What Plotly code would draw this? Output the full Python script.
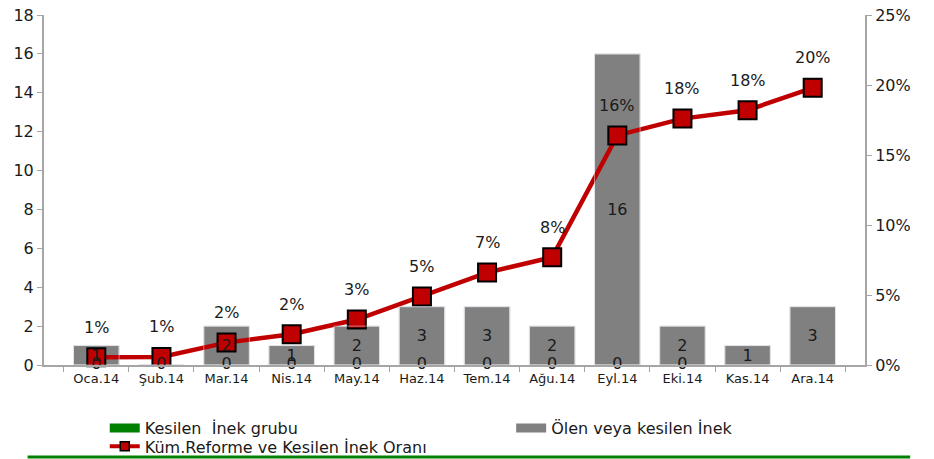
import plotly.graph_objects as go

# monthly data (2014)
months = ["Oca.14", "Şub.14", "Mar.14", "Nis.14", "May.14", "Haz.14",
          "Tem.14", "Ağu.14", "Eyl.14", "Eki.14", "Kas.14", "Ara.14"]
kesilen_grup = [0, 0, 0, 0, 0, 0, 0, 0, 0, 0, None, None]
olen_kesilen = [1, 0, 2, 1, 2, 3, 3, 2, 16, 2, 1, 3]
kum_oran = [0.0056, 0.0058, 0.016, 0.022, 0.0325, 0.049,
            0.066, 0.077, 0.164, 0.176, 0.182, 0.198]

GREEN = "#008000"
GREY = "#808080"
RED = "#C00000"
TXT = "#1a1a1a"
FONT = "DejaVu Sans, Verdana, sans-serif"

fig = go.Figure()

fig.add_trace(go.Bar(
    x=months, y=kesilen_grup, name="Kesilen  İnek grubu",
    marker_color=GREEN, width=0.7, showlegend=False,
))
fig.add_trace(go.Bar(
    x=months, y=olen_kesilen, name="Ölen veya kesilen İnek",
    marker=dict(color=GREY, line=dict(color="#d9d9d9", width=1)),
    width=0.7, showlegend=False,
))
fig.add_trace(go.Scatter(
    x=months, y=kum_oran, yaxis="y2", name="Küm.Reforme ve Kesilen İnek Oranı",
    mode="lines+markers",
    line=dict(color=RED, width=4.5),
    marker=dict(symbol="square", size=18, color=RED,
                line=dict(color="black", width=2)),
    cliponaxis=False, showlegend=False,
))

# data labels on a top overlay axis so they sit above the line, like Excel
fig.add_trace(go.Bar(
    x=months, y=olen_kesilen, yaxis="y3", width=0.7,
    marker_color="rgba(0,0,0,0)", showlegend=False, hoverinfo="skip",
    text=[str(v) if v else "" for v in olen_kesilen],
    textposition="inside", insidetextanchor="middle",
    constraintext="none", textangle=0,
    textfont=dict(size=16, color=TXT, family=FONT),
))
fig.add_trace(go.Scatter(
    x=months, y=kesilen_grup, yaxis="y3", mode="text",
    text=["0" if v is not None else "" for v in kesilen_grup],
    textposition="middle center",
    textfont=dict(size=16, color=TXT, family=FONT),
    showlegend=False, hoverinfo="skip", cliponaxis=False,
))

# legend entries drawn Excel-style (wide bar swatches)
fig.add_trace(go.Scatter(
    x=[None], y=[None], mode="lines", name="Kesilen  İnek grubu",
    line=dict(color=GREEN, width=9), legend="legend",
))
fig.add_trace(go.Scatter(
    x=[None], y=[None], mode="lines", name="Ölen veya kesilen İnek",
    line=dict(color=GREY, width=9), legend="legend2",
))
fig.add_trace(go.Scatter(
    x=[None], y=[None], mode="lines+markers", name="Küm.Reforme ve Kesilen İnek Oranı",
    line=dict(color=RED, width=4),
    marker=dict(symbol="square", size=9, color=RED, line=dict(color="black", width=1.5)),
    legend="legend3",
))

annotations = []
for m, v in zip(months, kum_oran):
    annotations.append(dict(
        x=m, y=v, yref="y2", text=f"{round(v * 100)}%", showarrow=False,
        yshift=30, font=dict(size=16, color=TXT, family=FONT),
    ))

leg = dict(xanchor="left", yanchor="top", font=dict(size=16), bgcolor="rgba(0,0,0,0)")
axis_style = dict(
    showline=True, linecolor="#a6a6a6", linewidth=2, ticks="outside", ticklen=5,
    tickcolor="#a6a6a6", showgrid=False, zeroline=False, ticklabeloverflow="allow",
)

# page body adds an 8px offset, so the figure is sized 8px smaller
fig.update_layout(
    width=926, height=451,
    margin=dict(l=36, r=69, t=7, b=94, autoexpand=False),
    plot_bgcolor="white", paper_bgcolor="white",
    font=dict(family=FONT, size=16, color=TXT),
    barmode="overlay",
    annotations=annotations,
    xaxis=dict(tickson="boundaries", tickfont=dict(size=13), **axis_style),
    yaxis=dict(range=[0, 18], dtick=2, tickfont=dict(size=16), **axis_style),
    yaxis2=dict(
        range=[0, 0.25], dtick=0.05, tickformat=".0%", overlaying="y", side="right",
        tickfont=dict(size=16), **axis_style,
    ),
    yaxis3=dict(range=[0, 18], overlaying="y", visible=False),
    legend=dict(x=0.074, y=-0.1314, **leg),
    legend2=dict(x=0.569, y=-0.1314, **leg),
    legend3=dict(x=0.074, y=-0.184, **leg),
    shapes=[dict(
        type="line", xref="paper", yref="paper",
        x0=-0.02, x1=1.055, y0=-0.263, y1=-0.263,
        line=dict(color=GREEN, width=3),
    )],
)

fig.write_html("out.html")
